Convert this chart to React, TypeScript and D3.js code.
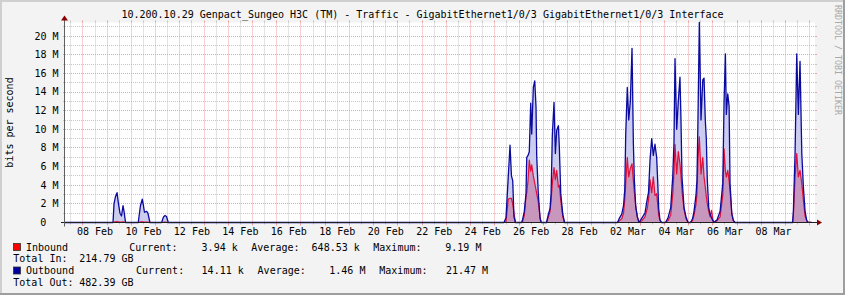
import React from 'react';
import * as d3 from 'd3';

// ---------- data (values in M bits/s) ----------
const sampleTimes = [
  "2015-02-07T06:20",
  "2015-02-09T05:50", "2015-02-09T06:50", "2015-02-09T08:20", "2015-02-09T09:50", "2015-02-09T11:15",
  "2015-02-09T12:45", "2015-02-09T14:15", "2015-02-09T15:45", "2015-02-09T16:45", "2015-02-09T18:15",
  "2015-02-10T06:50", "2015-02-10T09:00", "2015-02-10T10:50", "2015-02-10T12:00", "2015-02-10T13:00",
  "2015-02-10T15:10", "2015-02-10T16:25", "2015-02-10T18:25",
  "2015-02-11T06:00", "2015-02-11T07:50", "2015-02-11T09:20", "2015-02-11T10:50", "2015-02-11T12:35",
  "2015-02-25T09:05", "2015-02-25T11:05", "2015-02-25T13:20", "2015-02-25T15:05", "2015-02-25T16:30",
  "2015-02-25T17:45", "2015-02-25T19:00", "2015-02-25T20:30",
  "2015-02-26T02:30", "2015-02-26T03:30", "2015-02-26T05:15", "2015-02-26T06:55", "2015-02-26T07:40",
  "2015-02-26T08:55", "2015-02-26T10:10", "2015-02-26T11:35", "2015-02-26T12:35", "2015-02-26T14:10",
  "2015-02-26T15:35", "2015-02-26T16:50", "2015-02-26T17:30", "2015-02-26T19:05", "2015-02-26T20:50",
  "2015-02-26T22:00",
  "2015-02-27T03:15", "2015-02-27T05:05", "2015-02-27T06:45", "2015-02-27T07:45", "2015-02-27T09:00",
  "2015-02-27T10:40", "2015-02-27T12:00", "2015-02-27T13:20", "2015-02-27T15:00", "2015-02-27T15:55",
  "2015-02-27T17:20", "2015-02-27T19:20", "2015-02-27T21:05",
  "2015-03-02T01:35", "2015-03-02T03:35", "2015-03-02T05:45", "2015-03-02T07:30", "2015-03-02T08:45",
  "2015-03-02T09:40", "2015-03-02T11:15", "2015-03-02T12:40", "2015-03-02T14:15", "2015-03-02T15:55",
  "2015-03-02T17:15", "2015-03-02T18:15", "2015-03-02T19:35", "2015-03-02T21:10", "2015-03-02T22:55",
  "2015-03-03T01:45", "2015-03-03T04:45", "2015-03-03T07:00", "2015-03-03T08:15", "2015-03-03T09:45",
  "2015-03-03T11:25", "2015-03-03T13:00", "2015-03-03T14:40", "2015-03-03T16:20", "2015-03-03T17:20",
  "2015-03-03T18:20", "2015-03-03T19:35", "2015-03-03T21:05",
  "2015-03-04T01:05", "2015-03-04T03:35", "2015-03-04T06:15", "2015-03-04T08:15", "2015-03-04T09:30",
  "2015-03-04T10:30", "2015-03-04T12:10", "2015-03-04T13:45", "2015-03-04T15:25", "2015-03-04T16:25",
  "2015-03-04T17:25", "2015-03-04T19:25", "2015-03-04T21:25", "2015-03-04T23:25",
  "2015-03-05T01:55", "2015-03-05T03:50", "2015-03-05T05:20", "2015-03-05T07:20", "2015-03-05T08:15",
  "2015-03-05T09:15", "2015-03-05T10:35", "2015-03-05T12:15", "2015-03-05T14:00", "2015-03-05T15:15",
  "2015-03-05T16:30", "2015-03-05T17:30", "2015-03-05T18:30", "2015-03-05T19:55", "2015-03-05T21:10",
  "2015-03-05T22:40", "2015-03-06T00:05", "2015-03-06T00:55",
  "2015-03-06T04:10", "2015-03-06T07:10", "2015-03-06T09:50", "2015-03-06T11:05", "2015-03-06T12:25",
  "2015-03-06T13:20", "2015-03-06T14:45", "2015-03-06T16:05", "2015-03-06T17:00", "2015-03-06T18:45",
  "2015-03-06T20:20", "2015-03-06T22:00",
  "2015-03-09T07:00", "2015-03-09T07:45", "2015-03-09T09:25", "2015-03-09T11:05", "2015-03-09T12:40",
  "2015-03-09T14:20", "2015-03-09T16:05", "2015-03-09T17:40", "2015-03-09T19:20", "2015-03-09T21:00",
  "2015-03-09T22:15", "2015-03-10T01:40",
];

const outboundM = [
  0,
  0, 2.0, 2.8, 3.2, 2.0, 1.0, 0.7, 1.8, 1.2, 0,
  0, 1.8, 2.5, 1.8, 1.1, 1.2, 1.0, 0,
  0, 0.6, 0.75, 0.65, 0,
  0, 0.5, 4.9, 8.3, 5.0, 4.5, 0.6, 0,
  0, 0.3, 1.2, 3.1, 7.0, 7.2, 7.6, 12.8, 9.5, 14.5, 15.2, 12.4, 7.2, 3.1, 0.4, 0,
  0, 0.9, 1.5, 3.1, 9.4, 12.9, 7.4, 9.9, 10.4, 8.1, 3.1, 0.9, 0,
  0, 0.5, 0.9, 1.8, 3.5, 9.4, 14.5, 11.0, 13.0, 18.7, 8.5, 4.5, 1.7, 0.6, 0,
  0.5, 1.0, 2.5, 3.2, 6.7, 9.0, 7.2, 8.4, 7.0, 4.5, 1.5, 0.3, 0,
  0, 0.5, 1.6, 4.9, 8.6, 17.6, 10.0, 13.0, 15.6, 11.0, 4.9, 1.6, 0.6, 0,
  0, 0.4, 1.2, 3.0, 4.5, 11.0, 21.47, 11.0, 15.3, 15.5, 11.0, 9.0, 4.5, 1.6, 0.9, 0.5, 0.2, 0,
  0.3, 1.2, 4.2, 12.9, 18.1, 11.6, 13.8, 12.5, 4.2, 0.9, 0.2, 0,
  0, 1.2, 7.4, 18.1, 11.6, 17.3, 7.4, 3.8, 1.2, 0.2, 0.02, 0.014,
];

const inboundM = [
  0,
  0, 0.05, 0.08, 0.1, 0.08, 0.05, 0.05, 0.08, 0.05, 0,
  0, 0.06, 0.08, 0.06, 0.05, 0.05, 0.04, 0,
  0, 0.03, 0.03, 0.03, 0,
  0, 0.1, 2.5, 2.6, 2.6, 2.0, 1.0, 0,
  0, 0.1, 0.8, 2.8, 3.2, 4.5, 6.7, 5.5, 6.2, 5.0, 4.2, 3.5, 3.1, 2.2, 0.6, 0,
  0, 0.6, 1.2, 2.4, 4.2, 5.9, 4.6, 5.6, 3.8, 4.0, 2.4, 0.6, 0,
  0, 0.2, 0.4, 1.0, 2.5, 4.2, 7.0, 4.9, 5.8, 6.3, 4.5, 3.2, 1.8, 0.6, 0,
  0.2, 0.6, 1.5, 2.4, 4.6, 3.2, 4.9, 2.9, 3.1, 2.0, 0.8, 0.2, 0,
  0, 0.2, 0.8, 3.0, 5.5, 8.4, 5.2, 7.6, 6.3, 5.0, 3.4, 1.4, 0.4, 0,
  0, 0.2, 0.8, 2.0, 3.1, 6.7, 9.19, 5.2, 7.0, 4.9, 3.8, 2.8, 2.0, 1.2, 0.6, 1.3, 0.3, 0,
  0.2, 0.6, 3.0, 7.9, 5.5, 4.9, 5.6, 4.5, 3.4, 1.0, 0.2, 0,
  0, 0.8, 4.9, 7.4, 4.9, 5.6, 4.2, 2.4, 0.7, 0.2, 0.01, 0.004,
];

const rangeStart = "2015-02-07T06:17";
const rangeEnd = "2015-03-10T05:10";

const xLabelDays = [
  "2015-02-08", "2015-02-10", "2015-02-12", "2015-02-14", "2015-02-16", "2015-02-18", "2015-02-20",
  "2015-02-22", "2015-02-24", "2015-02-26", "2015-02-28", "2015-03-02", "2015-03-04", "2015-03-06",
  "2015-03-08",
];
const yMajorTicks = [0, 2, 4, 6, 8, 10, 12, 14, 16, 18, 20];
const yMinorTicks = [1, 3, 5, 7, 9, 11, 13, 15, 17, 19, 21];
const yMax = 21.47;

const titleText =
  "10.200.10.29 Genpact_Sungeo H3C (TM) - Traffic - GigabitEthernet1/0/3 GigabitEthernet1/0/3 Interface";
const yAxisTitle = "bits per second";
const watermark = "RRDTOOL / TOBI OETIKER";

const seriesNames = ["Inbound", "Outbound"];
const currentVals = ["3.94 k", "14.11 k"];
const averageVals = ["648.53 k", "1.46 M"];
const maximumVals = ["9.19 M", "21.47 M"];
const totalLabels = ["Total In:", "Total Out:"];
const totalVals = ["214.79 GB", "482.39 GB"];

// ---------- layout ----------
const W = 845;
const H = 295;
const L = 65;
const R = 815;
const T = 22.5;
const B = 222.5;
const FONT = "'DejaVu Sans Mono', monospace";

const parse = d3.utcParse("%Y-%m-%dT%H:%M");
const parseDay = d3.utcParse("%Y-%m-%d");
const fmtDay = d3.utcFormat("%d %b");

export default function App() {
  const t0 = parse(rangeStart)!;
  const t1 = parse(rangeEnd)!;
  const x = d3.scaleUtc().domain([t0, t1]).range([L, R]);
  const y = d3.scaleLinear().domain([0, yMax]).range([B, T]);

  const pts = sampleTimes.map((s, i) => ({ t: parse(s)!, o: outboundM[i], n: inboundM[i] }));

  const areaOut = d3.area<any>().x((d) => x(d.t)).y0(B).y1((d) => y(d.o))(pts) || '';
  const areaIn = d3.area<any>().x((d) => x(d.t)).y0(B).y1((d) => y(d.n))(pts) || '';
  const lineOut = d3.line<any>().x((d) => x(d.t)).y((d) => y(d.o))(pts) || '';
  const lineIn = d3.line<any>().x((d) => x(d.t)).y((d) => y(d.n))(pts) || '';

  const days = d3.utcDay.range(d3.utcDay.ceil(t0), t1);
  const halfDays = d3.utcHour.every(12)!.range(t0, t1).filter((d) => d.getUTCHours() === 12);

  const crisp = (v: number) => Math.round(v - 0.5) + 0.5;

  const minorCol = '#c6c6c6';
  const majorCol = '#eda0a0';

  return (
    <svg width={W} height={H} style={{ position: 'absolute', left: 0, top: 0 }} fontFamily={FONT}>
      <rect x={0} y={0} width={W} height={H} fill="#f3f3f3" />
      {/* 3D frame */}
      <line x1={0} y1={1} x2={W} y2={1} stroke="#cfcfcf" strokeWidth={2} />
      <line x1={1} y1={0} x2={1} y2={H} stroke="#cfcfcf" strokeWidth={2} />
      <line x1={0} y1={H - 1} x2={W} y2={H - 1} stroke="#9e9e9e" strokeWidth={2} />
      <line x1={W - 1} y1={0} x2={W - 1} y2={H} stroke="#9e9e9e" strokeWidth={2} />

      {/* canvas */}
      <rect x={L} y={T} width={R - L} height={B - T} fill="#ffffff" />

      {/* minor grid */}
      {halfDays.map((d, i) => {
        const xx = crisp(x(d));
        return (
          <g key={'mv' + i}>
            <line x1={xx} x2={xx} y1={T} y2={B} stroke={minorCol} strokeDasharray="1,1" />
            <line x1={xx} x2={xx} y1={T - 2} y2={T} stroke={minorCol} />
            <line x1={xx} x2={xx} y1={B} y2={B + 2} stroke={minorCol} />
          </g>
        );
      })}
      {yMinorTicks.map((v, i) => {
        const yy = crisp(y(v));
        return (
          <g key={'mh' + i}>
            <line x1={L} x2={R} y1={yy} y2={yy} stroke={minorCol} strokeDasharray="1,1" />
            <line x1={L - 2} x2={L} y1={yy} y2={yy} stroke={minorCol} />
            <line x1={R} x2={R + 2} y1={yy} y2={yy} stroke={minorCol} />
          </g>
        );
      })}
      {/* major grid */}
      {days.map((d, i) => {
        const xx = crisp(x(d));
        return (
          <g key={'Mv' + i}>
            <line x1={xx} x2={xx} y1={T} y2={B} stroke={majorCol} strokeDasharray="1,1" />
            <line x1={xx} x2={xx} y1={T - 2} y2={T} stroke={majorCol} />
            <line x1={xx} x2={xx} y1={B} y2={B + 3} stroke={majorCol} />
          </g>
        );
      })}
      {yMajorTicks.filter((v) => v > 0).map((v, i) => {
        const yy = crisp(y(v));
        return (
          <g key={'Mh' + i}>
            <line x1={L} x2={R} y1={yy} y2={yy} stroke={majorCol} strokeDasharray="1,1" />
            <line x1={L - 2} x2={L} y1={yy} y2={yy} stroke={majorCol} />
            <line x1={R} x2={R + 2} y1={yy} y2={yy} stroke={majorCol} />
          </g>
        );
      })}

      {/* data */}
      <path d={areaOut} fill="#ccccee" />
      <path d={areaIn} fill="rgba(190,40,90,0.32)" />
      <path d={lineIn} fill="none" stroke="#e0103a" strokeWidth={1.2} strokeLinejoin="round" />
      <path d={lineOut} fill="none" stroke="#0a0aa0" strokeWidth={1.3} strokeLinejoin="round" />

      {/* axes */}
      <line x1={L - 4} x2={R + 4} y1={B} y2={B} stroke="#202020" strokeWidth={1} />
      <line x1={L - 0.5} x2={L - 0.5} y1={B + 4} y2={T - 4} stroke="#606060" strokeWidth={1} />
      <polygon points={`${R + 2},${B - 3} ${R + 2},${B + 3} ${R + 7},${B}`} fill="#8a0000" />
      <polygon points={`${L - 4},${T - 2} ${L + 3},${T - 2} ${L - 0.5},${T - 7}`} fill="#8a0000" />

      {/* y labels */}
      {yMajorTicks.map((v, i) => (
        <text key={'yl' + i} x={v === 0 ? 46.4 : 58.6} y={y(v) + 3.4} fontSize={10} textAnchor="end" fill="#000">
          {v === 0 ? '0' : `${v} M`}
        </text>
      ))}
      {/* x labels */}
      {xLabelDays.map((s, i) => {
        const d = parseDay(s)!;
        const mid = d3.utcHour.offset(d, 12);
        return (
          <text key={'xl' + i} x={x(mid)} y={234.5} fontSize={10} textAnchor="middle" fill="#000">
            {fmtDay(d)}
          </text>
        );
      })}

      {/* title */}
      <text x={422.5} y={18.3} fontSize={10} textAnchor="middle" fill="#000">{titleText}</text>
      {/* y axis title */}
      <text x={13.3} y={122.5} fontSize={10} textAnchor="middle" transform="rotate(-90 13.3 122.5)" fill="#000">
        {yAxisTitle}
      </text>
      {/* watermark */}
      <text x={834.5} y={5} fontSize={8.3} textAnchor="start" transform="rotate(90 834.5 5)" fill="#a8a8a8">
        {watermark}
      </text>

      {/* legend */}
      <rect x={13.5} y={243.5} width={7} height={7} fill="#ff0000" stroke="#303030" strokeWidth={0.8} />
      <text fontSize={10} y={250.5} fill="#000">
        <tspan x={26}>{seriesNames[0]}</tspan>
        <tspan x={129.3}>Current:</tspan>
        <tspan x={201.6}>{currentVals[0]}</tspan>
        <tspan x={251.3}>Average:</tspan>
        <tspan x={311.6}>{averageVals[0]}</tspan>
        <tspan x={373.3}>Maximum:</tspan>
        <tspan x={445.3}>{maximumVals[0]}</tspan>
      </text>
      <text fontSize={10} y={262} fill="#000">
        <tspan x={13.3}>{totalLabels[0]}</tspan>
        <tspan x={79.3}>{totalVals[0]}</tspan>
      </text>
      <rect x={13.5} y={267} width={7} height={7} fill="#0000a0" stroke="#303030" strokeWidth={0.8} />
      <text fontSize={10} y={274} fill="#000">
        <tspan x={26}>{seriesNames[1]}</tspan>
        <tspan x={136}>Current:</tspan>
        <tspan x={201.6}>{currentVals[1]}</tspan>
        <tspan x={257.6}>Average:</tspan>
        <tspan x={329.3}>{averageVals[1]}</tspan>
        <tspan x={379.3}>Maximum:</tspan>
        <tspan x={446}>{maximumVals[1]}</tspan>
      </text>
      <text fontSize={10} y={285.5} fill="#000">
        <tspan x={13.3}>{totalLabels[1]}</tspan>
        <tspan x={79.3}>{totalVals[1]}</tspan>
      </text>
    </svg>
  );
}
